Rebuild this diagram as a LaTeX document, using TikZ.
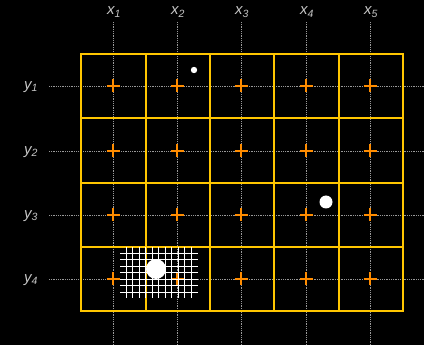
\documentclass[tikz,border=0pt]{standalone}
\usepackage{fontspec}
\setmainfont{Liberation Sans}
\begin{document}
\begin{tikzpicture}[x=1pt,y=-1pt,
  lbl/.style={text=lightgray!90!white,font=\fontsize{15}{17}\selectfont\itshape,inner sep=0pt},
  guide/.style={draw=gray!80!white,densely dotted,line width=0.8pt},
  cell/.style={draw=gridgold,line width=2.3pt},
  crossmark/.style={draw=crossorange,line width=2pt},
  meshline/.style={draw=white,line width=1pt},
  dot/.style={fill=white,draw=none}]
\definecolor{gridgold}{RGB}{255,198,0}
\definecolor{crossorange}{RGB}{255,140,0}
\fill[black] (0,0) rectangle (424,345);
\useasboundingbox (0,0) rectangle (424,345);
% labels
\foreach \i/\x in {1/113,2/177,3/241,4/306,5/370}{
  \node[lbl] (xl\i) at (\x+1,12) {x\textsubscript{\i}};
  \draw[guide] (\x,22) -- (\x,345);
}
\foreach \j/\y in {1/86,2/151,3/215,4/279}{
  \node[lbl] (yl\j) at (31,\y+1) {y\textsubscript{\j}};
  \draw[guide] (49,\y) -- (424,\y);
}
% grid
\draw[cell] (81,54) rectangle (403,311);
\foreach \x in {146,210,274,339}{
  \draw[cell] (\x,54) -- (\x,311);
}
\foreach \y in {118,183,247}{
  \draw[cell] (81,\y) -- (403,\y);
}
% crosses
\foreach \x in {113,177,241,306,370}{
  \foreach \y in {86,151,215,279}{
    \draw[crossmark] (\x-6.5,\y) -- (\x+6.5,\y) (\x,\y-6.5) -- (\x,\y+6.5);
  }
}
% mesh
\foreach \k in {0,...,10}{
  \draw[meshline] ({126+6.5*\k},247) -- ({126+6.5*\k},298);
}
\foreach \k in {0,...,6}{
  \draw[meshline] (120,{253.3+6.5*\k}) -- (198,{253.3+6.5*\k});
}
% dots
\fill[dot] (156,269) circle (10);
\fill[dot] (194,70) circle (3.2);
\fill[dot] (326,202) circle (6.5);
\end{tikzpicture}
\end{document}
